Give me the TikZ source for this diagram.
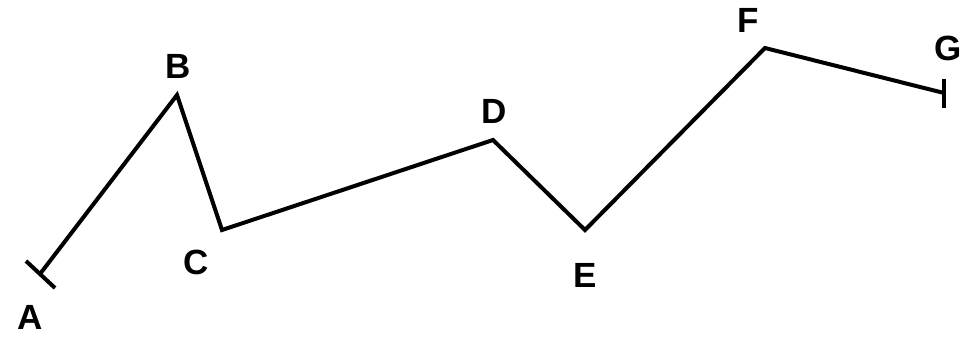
\documentclass[tikz,border=0pt]{standalone}
\usepackage{fontspec}
\setmainfont{Liberation Sans}
\begin{document}
\begin{tikzpicture}[x=1pt,y=-1pt,
  lbl/.style={font=\fontsize{35}{40}\selectfont\bfseries, inner sep=0pt, text height=25pt, text depth=0pt},
  pathline/.style={line width=4pt, line join=miter}]
\useasboundingbox (0,0) rectangle (966,337);
\coordinate (pA) at (40,274);
\coordinate (pB) at (177,95);
\coordinate (pC) at (222,230);
\coordinate (pD) at (493,140);
\coordinate (pE) at (585,230);
\coordinate (pF) at (765,48);
\coordinate (pG) at (944,93);
\coordinate (a1) at (26,261);
\coordinate (a2) at (55,288);
\coordinate (g1) at (944,79);
\coordinate (g2) at (944,108);
\draw[pathline] (pA) -- (pB) -- (pC) -- (pD) -- (pE) -- (pF) -- (pG);
\draw[pathline] (a1) -- (a2);
\draw[pathline] (g1) -- (g2);
\node[lbl] (lA) at (30,317) {A};
\node[lbl] (lB) at (178,66) {B};
\node[lbl] (lC) at (196,262) {C};
\node[lbl] (lD) at (494,111) {D};
\node[lbl] (lE) at (585,275) {E};
\node[lbl] (lF) at (748,20) {F};
\node[lbl] (lG) at (948,48) {G};
\end{tikzpicture}
\end{document}
